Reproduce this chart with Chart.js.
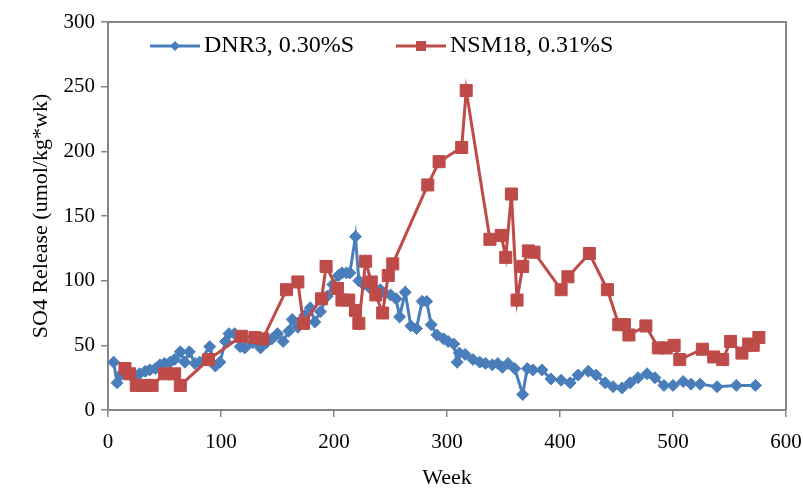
<!DOCTYPE html>
<html>
<head>
<meta charset="utf-8">
<script src="https://cdn.jsdelivr.net/npm/chart.js@4.4.1/dist/chart.umd.min.js"></script>
<style>
  body { margin: 0; background: #fff; }
  #wrap { width: 803px; height: 492px; }
</style>
</head>
<body>
<div id="wrap"><canvas id="so4Chart" width="803" height="492"></canvas></div>
<script>
// DNR3 series (blue diamonds)
const dnrWeeks = [5, 8, 11, 15, 20, 24, 28, 33, 37, 42, 46, 50, 55, 59, 64, 68, 72, 77, 81, 90,
  95, 99, 104, 107, 112, 117, 121, 128, 135, 140, 145, 150, 155, 160, 163, 168, 174, 179, 183, 188,
  194, 199, 204, 207, 211, 214, 219, 222, 226, 231, 236, 241, 245, 250, 255, 258, 263, 268, 273, 278,
  282, 286, 291, 297, 301, 306, 309, 311, 316, 323, 329, 334, 340, 345, 349, 354, 360, 367, 371, 376,
  384, 392, 401, 409, 416, 425, 432, 440, 447, 455, 462, 469, 477, 484, 492, 500, 509, 516, 524, 539,
  556, 573];
const dnrValues = [37, 21, 27, 30, 27, 27, 28, 30, 31, 32, 35, 36, 37, 39, 45, 37, 45, 36, 37, 49,
  34, 37, 53, 59, 59, 49, 48, 52, 48, 52, 55, 59, 53, 61, 70, 64, 73, 79, 68, 76,
  88, 97, 104, 106, 106, 106, 134, 100, 97, 95, 93, 93, 90, 89, 86, 72, 91, 65, 63, 84,
  84, 66, 58, 55, 53, 51, 37, 44, 43, 39, 37, 36, 35, 36, 33, 36, 32, 12, 32, 31,
  31, 24, 23, 21, 27, 30, 27, 21, 18, 17, 21, 25, 28, 25, 19, 19, 22, 20, 20, 18,
  19, 19];

// NSM18 series (red squares)
const nsmWeeks = [15, 19, 25, 33, 39, 50, 59, 64, 89, 118, 130, 137, 158, 168, 173, 189, 193, 203, 207, 213,
  219, 222, 228, 233, 237, 243, 248, 252, 283, 293, 313, 317, 338, 348, 352, 357, 362, 367, 372, 377,
  401, 407, 426, 442, 452, 457, 461, 476, 487, 494, 501, 506, 526, 536, 544, 551, 561, 567, 571, 576];
const nsmValues = [32, 28, 19, 19, 19, 28, 28, 19, 39, 57, 56, 55, 93, 99, 67, 86, 111, 94, 85, 85,
  77, 67, 115, 99, 89, 75, 104, 113, 174, 192, 203, 247, 132, 135, 118, 167, 85, 111, 123, 122,
  93, 103, 121, 93, 66, 66, 58, 65, 48, 48, 50, 39, 47, 41, 39, 53, 44, 51, 50, 56];

const seriesNames = ["DNR3, 0.30%S", "NSM18, 0.31%S"];
const xTicks = [0, 100, 200, 300, 400, 500, 600];
const yTicks = [0, 50, 100, 150, 200, 250, 300];

const serif = "'Liberation Serif', 'Times New Roman', serif";
const blue = "#4A7EBB";
const red = "#BE4B48";
const axisGray = "#868686";

function toPoints(xs, ys) {
  return xs.map((x, i) => ({ x: x, y: ys[i] }));
}

// small line + marker picture for the legend, like the spreadsheet legend
function legendIcon(color, marker) {
  const c = document.createElement("canvas");
  c.width = 50;
  c.height = 16;
  const g = c.getContext("2d");
  g.strokeStyle = color;
  g.lineWidth = 3;
  g.beginPath();
  g.moveTo(0, 8);
  g.lineTo(50, 8);
  g.stroke();
  g.fillStyle = color;
  if (marker === "diamond") {
    g.beginPath();
    g.moveTo(25, 3);
    g.lineTo(30, 8);
    g.lineTo(25, 13);
    g.lineTo(20, 8);
    g.closePath();
    g.fill();
  } else {
    g.fillRect(20, 3, 10, 10);
  }
  return c;
}
const icons = [legendIcon(blue, "diamond"), legendIcon(red, "square")];

const legendPad = 50;

const framePlugin = {
  id: "frame",
  afterLayout(chart) {
    // legend sits inside the plot, both entries on one row
    const a = chart.chartArea;
    const lg = chart.legend;
    lg.maxHeight = 60;
    lg.fit();
    lg.left = a.left;
    lg.right = a.right;
    lg.top = a.top + 12 - legendPad;
    lg.bottom = lg.top + 100;
  },
  beforeDatasetsDraw(chart) {
    const a = chart.chartArea;
    const ctx = chart.ctx;
    ctx.save();
    ctx.strokeStyle = axisGray;
    ctx.lineWidth = 2;
    ctx.beginPath();
    ctx.moveTo(a.left, a.top);
    ctx.lineTo(a.right, a.top);
    ctx.lineTo(a.right, a.bottom);
    ctx.stroke();
    ctx.restore();
  }
};

new Chart(document.getElementById("so4Chart").getContext("2d"), {
  type: "line",
  data: {
    datasets: [
      {
        label: seriesNames[0],
        data: toPoints(dnrWeeks, dnrValues),
        borderColor: blue,
        backgroundColor: blue,
        borderWidth: 3,
        pointStyle: "rectRot",
        pointRadius: 6,
        pointBorderWidth: 1,
        pointBackgroundColor: blue,
        pointBorderColor: blue,
        tension: 0,
        order: 1
      },
      {
        label: seriesNames[1],
        data: toPoints(nsmWeeks, nsmValues),
        borderColor: red,
        backgroundColor: red,
        borderWidth: 3,
        pointStyle: "rect",
        pointRadius: 8.5,
        pointBorderWidth: 1,
        pointBackgroundColor: red,
        pointBorderColor: red,
        tension: 0,
        order: 0
      }
    ]
  },
  options: {
    responsive: false,
    animation: false,
    layout: { padding: { top: 22, right: 17, left: 0, bottom: 0 } },
    plugins: {
      tooltip: { enabled: false },
      legend: {
        display: true,
        position: "chartArea",
        align: "start",
        labels: {
          color: "#000",
          font: { family: serif, size: 24 },
          usePointStyle: true,
          pointStyleWidth: 34,
          padding: legendPad,
          generateLabels(chart) {
            const items = Chart.defaults.plugins.legend.labels.generateLabels(chart);
            items.sort((a, b) => a.datasetIndex - b.datasetIndex);
            items.forEach((it) => {
              it.pointStyle = icons[it.datasetIndex];
              it.fontColor = "#000";
            });
            return items;
          }
        }
      }
    },
    scales: {
      x: {
        type: "linear",
        min: 0,
        max: 600,
        afterBuildTicks: (s) => { s.ticks = xTicks.map((v) => ({ value: v })); },
        afterFit: (s) => { s.height = 82; s.paddingLeft = 0; s.paddingRight = 0; },
        grid: { display: true, drawOnChartArea: false, drawTicks: true, tickLength: 7, color: axisGray, lineWidth: 1.5 },
        border: { display: true, color: axisGray, width: 2 },
        ticks: { color: "#000", font: { family: serif, size: 21 }, padding: 13, maxRotation: 0 },
        title: { display: true, text: "Week", color: "#000", font: { family: serif, size: 22 }, padding: { top: 0, bottom: 1 } }
      },
      y: {
        type: "linear",
        min: 0,
        max: 300,
        afterBuildTicks: (s) => { s.ticks = yTicks.map((v) => ({ value: v })); },
        afterFit: (s) => { s.width = 108; s.paddingTop = 0; s.paddingBottom = 0; },
        grid: { display: true, drawOnChartArea: false, drawTicks: true, tickLength: 7, color: axisGray, lineWidth: 1.5 },
        border: { display: true, color: axisGray, width: 2 },
        ticks: { color: "#000", font: { family: serif, size: 21 }, padding: 6 },
        title: { display: true, text: "SO4 Release (umol/kg*wk)", color: "#000", font: { family: serif, size: 22 }, padding: { top: 28, bottom: 0 } }
      }
    }
  },
  plugins: [framePlugin]
});
</script>
</body>
</html>
